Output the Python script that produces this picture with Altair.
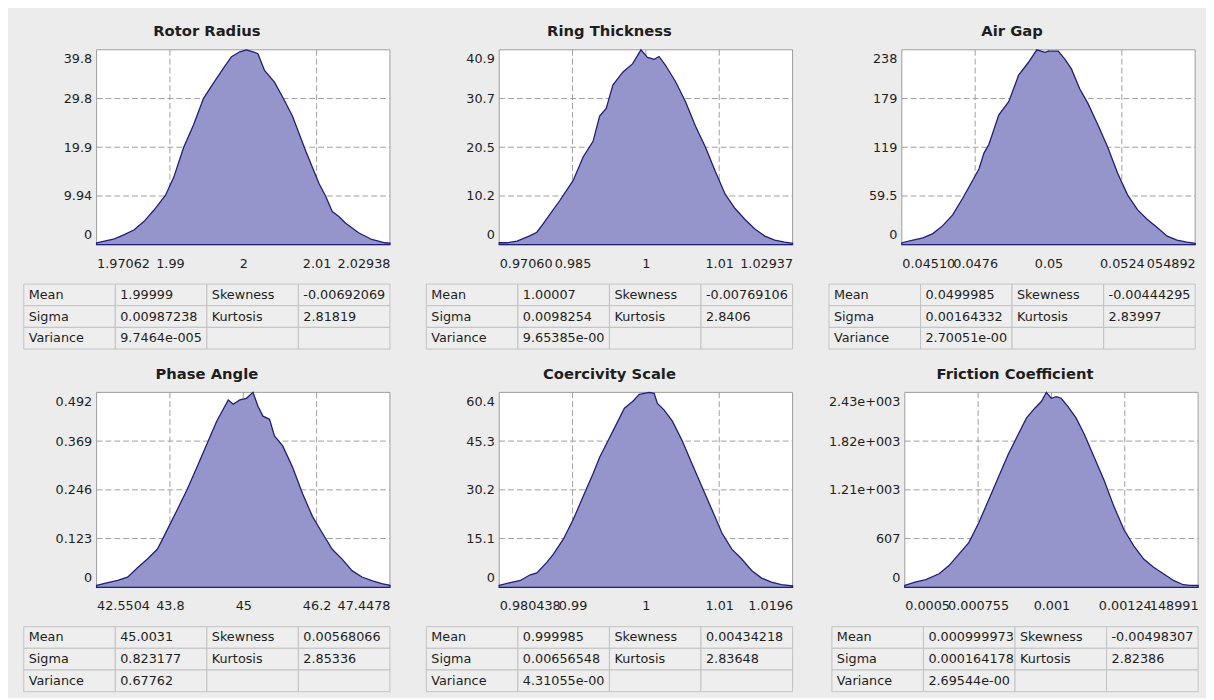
import altair as alt
import pandas as pd

# ---------------- data ----------------
titles = ["Rotor Radius", "Ring Thickness", "Air Gap",
          "Phase Angle", "Coercivity Scale", "Friction Coefficient"]

rotor_x = [1.97062, 1.97221, 1.97419, 1.97617, 1.97816, 1.98014, 1.98212, 1.98443,
           1.98609, 1.98807, 1.99005, 1.99204, 1.99402, 1.99600, 1.99765, 1.99931,
           2.00063, 2.00195, 2.00294, 2.00426, 2.00625, 2.00823, 2.00988, 2.01253,
           2.01517, 2.01649, 2.01782, 2.01914, 2.02046, 2.02310, 2.02575, 2.02839, 2.02938]
rotor_y = [0.40, 0.74, 1.19, 2.07, 3.06, 4.78, 7.08, 10.1, 13.8, 19.9, 24.5, 29.9,
           33.0, 36.0, 38.4, 39.4, 39.8, 39.4, 39.0, 35.6, 33.2, 29.5, 26.2, 19.1,
           12.5, 9.95, 6.77, 5.77, 4.42, 2.43, 1.07, 0.40, 0.32]

ring_x = [0.97060, 0.97219, 0.97417, 0.97682, 0.97814, 0.97947, 0.98046, 0.98278,
          0.98542, 0.98741, 0.98940, 0.99072, 0.99204, 0.99337, 0.99535, 0.99734,
          0.99899, 1.00031, 1.00164, 1.00263, 1.00395, 1.00594, 1.00793, 1.00991,
          1.01190, 1.01388, 1.01587, 1.01785, 1.01984, 1.02182, 1.02381, 1.02579,
          1.02778, 1.02937]
ring_y = [0.41, 0.41, 0.74, 1.92, 2.62, 4.50, 5.93, 9.33, 13.5, 18.4, 21.7, 27.0,
          28.6, 33.5, 36.2, 38.0, 40.9, 39.3, 38.9, 39.5, 37.6, 34.2, 30.0, 24.9,
          20.5, 15.4, 10.6, 7.6, 5.3, 3.3, 1.8, 0.98, 0.53, 0.29]

air_x = [0.045108, 0.045482, 0.045812, 0.046143, 0.046473, 0.046803, 0.047133,
         0.047409, 0.047683, 0.047848, 0.048014, 0.048344, 0.048674, 0.049004,
         0.049334, 0.049609, 0.049885, 0.049995, 0.050325, 0.050545, 0.050765,
         0.051040, 0.051315, 0.051646, 0.051976, 0.052306, 0.052636, 0.052966,
         0.053296, 0.053627, 0.053957, 0.054287, 0.054617, 0.054892]
air_y = [2.4, 5.7, 8.3, 13.6, 23.3, 36.4, 56.4, 74.5, 92.8, 111.9, 122.6, 158.7,
         174.7, 207.1, 222.8, 238.0, 234.9, 236.3, 236.3, 226.6, 214.7, 190.4,
         172.6, 146.6, 119.0, 87.3, 60.9, 42.8, 30.9, 20.9, 10.5, 5.7, 3.1, 1.7]

phase_x = [42.5504, 42.7377, 42.9030, 43.0682, 43.2335, 43.3988, 43.5640, 43.7293,
           43.8946, 44.0598, 44.2251, 44.3904, 44.5556, 44.7485, 44.8311, 44.9413,
           45.0514, 45.1616, 45.2442, 45.3269, 45.4371, 45.5197, 45.6574, 45.8227,
           45.9880, 46.1532, 46.3185, 46.4837, 46.6490, 46.8143, 46.9795, 47.1448,
           47.3101, 47.4478]
phase_y = [0.0049, 0.0118, 0.0172, 0.0256, 0.0492, 0.0713, 0.0959, 0.145, 0.195,
           0.246, 0.303, 0.361, 0.419, 0.473, 0.462, 0.473, 0.477, 0.492, 0.457,
           0.432, 0.424, 0.382, 0.357, 0.303, 0.237, 0.179, 0.137, 0.096, 0.071,
           0.042, 0.026, 0.017, 0.009, 0.005]

coer_x = [0.980438, 0.981937, 0.983260, 0.984583, 0.985466, 0.986789, 0.987671,
          0.988994, 0.990317, 0.991640, 0.992963, 0.993845, 0.994727, 0.996050,
          0.997152, 0.998255, 0.999137, 1.000460, 1.001120, 1.001560, 1.002440,
          1.003550, 1.004870, 1.006190, 1.007520, 1.008840, 1.010160, 1.011490,
          1.012810, 1.014130, 1.015460, 1.016780, 1.018100, 1.019600]
coer_y = [0.60, 1.45, 2.11, 3.87, 4.47, 7.73, 10.3, 14.9, 21.0, 28.1, 35.2, 40.3,
          44.3, 50.4, 55.5, 57.6, 59.8, 60.4, 60.1, 57.0, 55.0, 51.5, 45.4, 38.2,
          31.1, 24.0, 16.9, 11.8, 8.76, 5.19, 2.84, 1.63, 0.79, 0.42]

fric_x = [0.00051009, 0.00054756, 0.00058063, 0.00062472, 0.00065778, 0.00069084,
          0.00072391, 0.00075697, 0.00079004, 0.00082310, 0.00085617, 0.00088923,
          0.00091679, 0.00094434, 0.00096638, 0.00098292, 0.00099945, 0.00101598,
          0.00103251, 0.00105456, 0.00108211, 0.00110967, 0.00114273, 0.00117580,
          0.00120886, 0.00124192, 0.00127499, 0.00130805, 0.00134112, 0.00137418,
          0.00140725, 0.00144031, 0.00146236, 0.00148991]
fric_y = [24, 66, 95, 168, 270, 413, 556, 801, 1088, 1374, 1661, 1906, 2110, 2231,
          2314, 2428, 2355, 2375, 2355, 2253, 2110, 1906, 1620, 1333, 1005, 719, 515,
          352, 250, 168, 85, 32, 24, 24]

curves_x = [rotor_x, ring_x, air_x, phase_x, coer_x, fric_x]
curves_y = [rotor_y, ring_y, air_y, phase_y, coer_y, fric_y]

x_ticks = [
    [1.97062, 1.98531, 2.0, 2.01469, 2.02938],
    [0.97060, 0.98529, 0.999985, 1.01468, 1.02937],
    [0.045108, 0.047554, 0.05, 0.052446, 0.054892],
    [42.5504, 43.77475, 44.9991, 46.22345, 47.4478],
    [0.980438, 0.990229, 1.000019, 1.00981, 1.0196],
    [0.00051009, 0.00075505, 0.001, 0.00124495, 0.00148991],
]
x_tick_labels = [
    ["1.97062", "1.99", "2", "2.01", "2.02938"],
    ["0.97060", "0.985", "1", "1.01", "1.02937"],
    ["0.04510", "0.0476", "0.05", "0.0524", "054892"],
    ["42.5504", "43.8", "45", "46.2", "47.4478"],
    ["0.980438", "0.99", "1", "1.01", "1.0196"],
    ["0.0005", "0.000755", "0.001", "0.00124", "148991"],
]
y_ticks = [
    [0, 9.95, 19.9, 29.85, 39.8],
    [0, 10.225, 20.45, 30.675, 40.9],
    [0, 59.5, 119, 178.5, 238],
    [0, 0.123, 0.246, 0.369, 0.492],
    [0, 15.1, 30.2, 45.3, 60.4],
    [0, 607, 1214, 1821, 2428],
]
y_tick_labels = [
    ["0", "9.94", "19.9", "29.8", "39.8"],
    ["0", "10.2", "20.5", "30.7", "40.9"],
    ["0", "59.5", "119", "179", "238"],
    ["0", "0.123", "0.246", "0.369", "0.492"],
    ["0", "15.1", "30.2", "45.3", "60.4"],
    ["0", "607", "1.21e+003", "1.82e+003", "2.43e+003"],
]

means = ["1.99999", "1.00007", "0.0499985", "45.0031", "0.999985", "0.000999973"]
sigmas = ["0.00987238", "0.0098254", "0.00164332", "0.823177", "0.00656548", "0.000164178"]
variances = ["9.7464e-005", "9.65385e-00", "2.70051e-00", "0.67762", "4.31055e-00", "2.69544e-00"]
skews = ["-0.00692069", "-0.00769106", "-0.00444295", "0.00568066", "0.00434218", "-0.00498307"]
kurts = ["2.81819", "2.8406", "2.83997", "2.85336", "2.83648", "2.82386"]

# ---------------- styling ----------------
FONT = "DejaVu Sans"
BG = "#ececec"
FILL = "#9595cb"
LINE = "#1e1e78"
GRID = "#a0a0a0"
FRAME = "#9c9c9c"
TXT = "#1e1e1e"
CELL = "#eeeeee"
CELL_LINE = "#c2c2c2"
PW, PH = 372, 198
PL = 74


def lab_expr(vals, labs):
    s = ""
    for k in range(len(vals) - 1):
        mid = (vals[k] + vals[k + 1]) / 2
        s += f"datum.value < {mid!r} ? {labs[k]!r} : "
    return s + repr(labs[-1])


def make_plot(i):
    xt, xl = x_ticks[i], x_tick_labels[i]
    yt, yl = y_ticks[i], y_tick_labels[i]
    lo, hi, top = xt[0], xt[-1], yt[-1]
    xs = alt.Scale(domain=[lo, hi], range=[PL, PW], nice=False, zero=False)
    ys = alt.Scale(domain=[0, top], nice=False, zero=False)
    xa = alt.Axis(values=xt, labelExpr=lab_expr(xt, xl), labelFlush=True,
                  labelOverlap=False, grid=False, domain=False, ticks=False,
                  tickSize=0, labelPadding=13, labelFontSize=13, labelColor=TXT,
                  labelFont=FONT, title=None)
    ya = alt.Axis(values=yt, labelExpr=lab_expr(yt, yl), labelFlush=True,
                  labelFlushOffset=-3, labelOverlap=False, grid=False, domain=False,
                  ticks=False, tickSize=0, labelPadding=5, offset=-PL,
                  labelFontSize=13, labelColor=TXT, labelFont=FONT, title=None)

    fdf = pd.DataFrame({"lo": [lo], "hi": [hi], "b": [0.0], "t": [top]})
    frame = alt.Chart(fdf).mark_rect(fill="white", stroke=FRAME, strokeWidth=1).encode(
        x=alt.X("lo:Q", scale=xs, axis=xa), x2="hi",
        y=alt.Y("b:Q", scale=ys, axis=ya), y2="t")

    vdf = pd.DataFrame({"gx": xt[1:4]})
    vgrid = alt.Chart(vdf).mark_rule(color=GRID, strokeDash=[6, 3], strokeWidth=1).encode(
        x=alt.X("gx:Q", scale=xs, axis=xa))

    hdf = pd.DataFrame({"gy": yt[1:4], "lo": [lo] * 3, "hi": [hi] * 3})
    hgrid = alt.Chart(hdf).mark_rule(color=GRID, strokeDash=[6, 3], strokeWidth=1).encode(
        x=alt.X("lo:Q", scale=xs, axis=xa), x2="hi",
        y=alt.Y("gy:Q", scale=ys, axis=ya))

    adf = pd.DataFrame({"x": curves_x[i], "y": curves_y[i]})
    area = alt.Chart(adf).mark_area(fill=FILL, stroke=LINE, strokeWidth=1.3,
                                    fillOpacity=1).encode(
        x=alt.X("x:Q", scale=xs, axis=xa), y=alt.Y("y:Q", scale=ys, axis=ya))

    return alt.layer(frame, vgrid, hgrid, area).properties(
        width=PW, height=PH,
        title=alt.TitleParams(titles[i], font=FONT, fontSize=15, fontWeight="bold",
                              color=TXT, anchor="middle", offset=8))


def make_table(i):
    cells = [["Mean", means[i], "Skewness", skews[i]],
             ["Sigma", sigmas[i], "Kurtosis", kurts[i]],
             ["Variance", variances[i], "", ""]]
    rows = []
    for r, rc in enumerate(cells):
        for c, t in enumerate(rc):
            rows.append({"r": r, "c": c, "t": t})
    df = pd.DataFrame(rows)
    xsc = alt.Scale(paddingInner=0, paddingOuter=0)
    ysc = alt.Scale(paddingInner=0, paddingOuter=0)
    rect = alt.Chart(df).mark_rect(fill=CELL, stroke=CELL_LINE, strokeWidth=1).encode(
        x=alt.X("c:O", scale=xsc, axis=None), y=alt.Y("r:O", scale=ysc, axis=None))
    text = alt.Chart(df).mark_text(align="left", baseline="middle", dx=5, font=FONT,
                                   fontSize=13, color=TXT).encode(
        x=alt.X("c:O", scale=xsc, axis=None, bandPosition=0),
        y=alt.Y("r:O", scale=ysc, axis=None), text="t:N")
    return alt.layer(rect, text).properties(width=PW, height=66)


panels = [alt.vconcat(make_plot(i), make_table(i), spacing=13) for i in range(6)]
row1 = alt.hconcat(*panels[:3], spacing=33)
row2 = alt.hconcat(*panels[3:], spacing=33)

chart = alt.vconcat(row1, row2, spacing=17).configure(
    background=BG, font=FONT,
    padding={"left": 15, "top": 11, "right": 5, "bottom": 0},
).configure_view(strokeWidth=0)

chart.save("out.html", embed_options={"renderer": "svg", "actions": False})
